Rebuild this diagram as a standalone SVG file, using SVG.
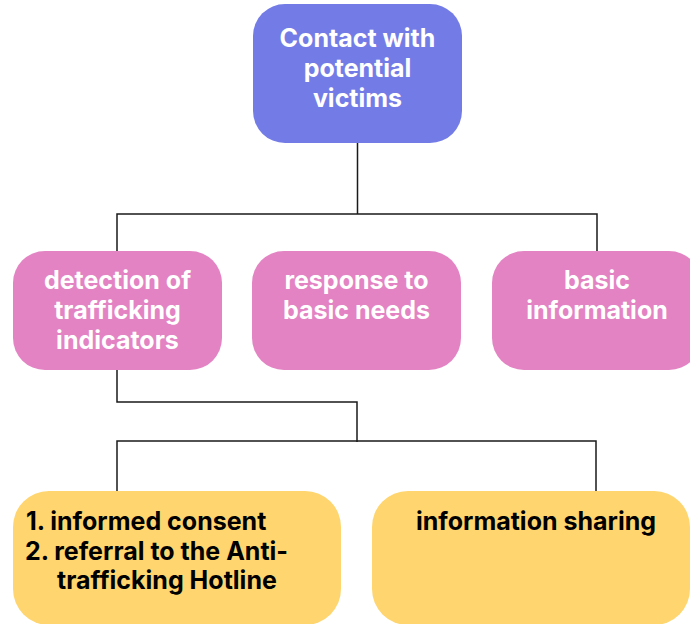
<svg xmlns="http://www.w3.org/2000/svg" width="690" height="624" viewBox="0 0 690 624">
<style>
.t{font-family:Inter,"Liberation Sans",sans-serif;font-weight:700;font-size:25px;}
.w{fill:#ffffff;text-anchor:middle;}
.k{fill:#000000;}
.blue{fill:#737CE6;}
.pink{fill:#E383C3;}
.yel{fill:#FED56E;}
.c{fill:none;stroke:#1a1a1a;stroke-width:1.5;}
</style>
<rect width="690" height="624" fill="#ffffff"/>
<g id="connectors">
<path class="c" d="M357.5 143 V214 M117 251 V214 H597 V251"/>
<path class="c" d="M117 370 V402 H357 V442 M117 491 V441 H596 V491"/>
</g>
<g id="n-contact">
<rect class="blue" x="253" y="4" width="209" height="139" rx="32"/>
<text class="t w" x="357.5" y="47">Contact with</text>
<text class="t w" x="357.5" y="77">potential</text>
<text class="t w" x="357.5" y="107">victims</text>
</g>
<g id="n-detection">
<rect class="pink" x="13" y="251" width="209" height="119" rx="32"/>
<text class="t w" x="117.5" y="289">detection of</text>
<text class="t w" x="117.5" y="319">trafficking</text>
<text class="t w" x="117.5" y="349">indicators</text>
</g>
<g id="n-response">
<rect class="pink" x="252" y="251" width="209" height="119" rx="32"/>
<text class="t w" x="356.5" y="289">response to</text>
<text class="t w" x="356.5" y="319">basic needs</text>
</g>
<g id="n-basic">
<rect class="pink" x="492" y="251" width="209" height="119" rx="32"/>
<text class="t w" x="597" y="289">basic</text>
<text class="t w" x="597" y="319">information</text>
</g>
<g id="n-consent">
<rect class="yel" x="13" y="491" width="328" height="134" rx="36"/>
<text class="t k" x="26" y="530">1. informed consent</text>
<text class="t k" x="25" y="560">2. referral to the Anti-</text>
<text class="t k" x="57" y="589">trafficking Hotline</text>
</g>
<g id="n-sharing">
<rect class="yel" x="372" y="491" width="318" height="134" rx="36"/>
<text class="t k" x="536" y="530" text-anchor="middle">information sharing</text>
</g>
</svg>
